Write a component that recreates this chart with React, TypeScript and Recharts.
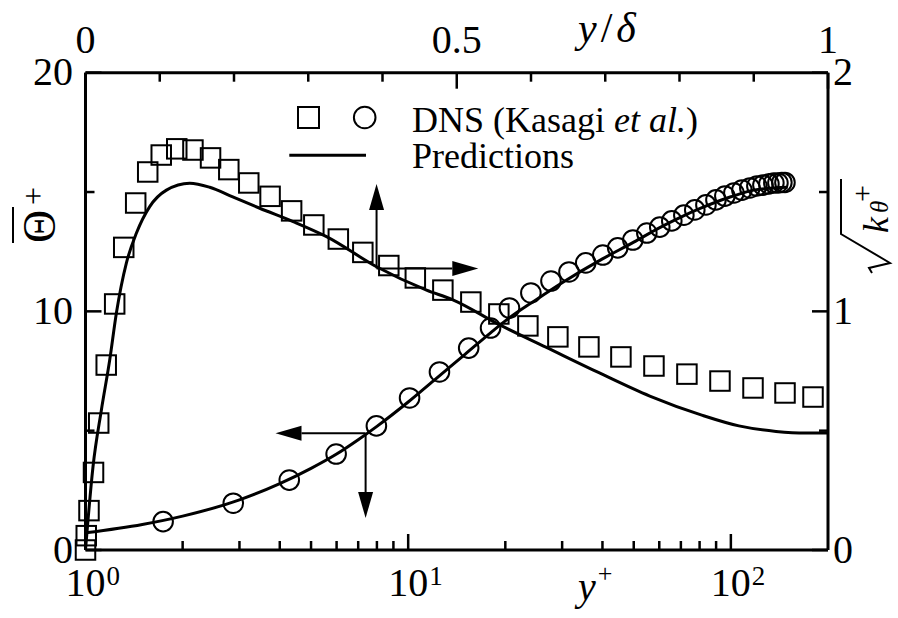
import React from 'react';
import { ComposedChart, Line, Scatter, XAxis, YAxis, ReferenceLine, Legend } from 'recharts';

const FONT = '"Liberation Serif", "Times New Roman", Times, serif';

// DNS mean temperature against wall distance in wall units
const dnsYPlus = [1.74, 2.87, 4.28, 5.98, 7.97, 10.1, 12.5, 15.4, 18.0, 20.6, 24.0, 27.7, 31.5, 35.5, 40.1, 44.6, 49.7, 54.9, 60.2, 65.6, 71.5, 77.3, 83.7, 89.9, 95.8, 102.2, 108.2, 114.5, 120.4, 125.7, 131.2, 135.9, 139.9, 143.9, 147.1];
const dnsTheta = [1.19, 1.96, 2.93, 4.02, 5.2, 6.37, 7.46, 8.46, 9.3, 10.14, 10.77, 11.27, 11.65, 12.03, 12.36, 12.66, 12.99, 13.28, 13.53, 13.79, 14.03, 14.25, 14.46, 14.67, 14.83, 14.96, 15.08, 15.17, 15.25, 15.29, 15.34, 15.38, 15.38, 15.4, 15.4];

// DNS rms temperature fluctuation against y/delta
const dnsEta = [0, 0.001, 0.0047, 0.0108, 0.0178, 0.0279, 0.0393, 0.0515, 0.0676, 0.0838, 0.102, 0.1229, 0.1447, 0.1684, 0.193, 0.2199, 0.2486, 0.2776, 0.3075, 0.3405, 0.3735, 0.4085, 0.4442, 0.4813, 0.519, 0.5567, 0.5958, 0.6362, 0.678, 0.7211, 0.7656, 0.81, 0.8545, 0.899, 0.9421, 0.9798];
const dnsKRms = [0, 0.06, 0.165, 0.325, 0.532, 0.775, 1.031, 1.268, 1.454, 1.584, 1.655, 1.681, 1.676, 1.643, 1.594, 1.538, 1.482, 1.421, 1.362, 1.303, 1.247, 1.192, 1.14, 1.089, 1.039, 0.989, 0.939, 0.893, 0.851, 0.809, 0.771, 0.737, 0.708, 0.679, 0.658, 0.641];

// Model predictions
const predYPlus = [1, 1.5, 2, 3, 4, 5, 6, 7, 8, 10, 12, 15, 18, 20, 25, 30, 40, 50, 60, 70, 80, 100, 120, 150];
const predTheta = [0.72, 1.07, 1.42, 2.1, 2.78, 3.42, 4.02, 4.62, 5.18, 6.2, 7.1, 8.2, 9.1, 9.6, 10.5, 11.2, 12.2, 12.9, 13.5, 13.95, 14.3, 14.8, 15.1, 15.2];
const predEta = [0, 0.0101, 0.0214, 0.0326, 0.0416, 0.0551, 0.0686, 0.0865, 0.109, 0.1404, 0.1673, 0.1983, 0.2347, 0.2796, 0.3246, 0.392, 0.4593, 0.4948, 0.558, 0.62, 0.69, 0.76, 0.83, 0.88, 0.93, 0.97, 1.0];
const predKRms = [0, 0.349, 0.587, 0.796, 0.993, 1.203, 1.328, 1.439, 1.508, 1.537, 1.52, 1.48, 1.432, 1.376, 1.313, 1.187, 1.089, 1.048, 0.943, 0.85, 0.745, 0.645, 0.565, 0.52, 0.497, 0.49, 0.49];

// Axis ticks
const yPlusTicks = [1, 2, 3, 4, 5, 6, 7, 8, 9, 10, 20, 30, 40, 50, 60, 70, 80, 90, 100];
const yPlusMajor = [1, 10, 100];
const etaTicks = [0, 0.1, 0.2, 0.3, 0.4, 0.5, 0.6, 0.7, 0.8, 0.9, 1];
const etaLabels: Record<string, string> = { '0': '0', '0.5': '0.5', '1': '1' };
const thetaTicks = [0, 5, 10, 15, 20];
const kTicks = [0, 0.5, 1, 1.5, 2];

// Guide arrows: corner point and arrow tips
const kArrowCorner = [0.392, 1.18];
const kArrowUpTip = 1.534;
const kArrowRightTip = 0.529;
const thArrowCorner = [7.38, 4.89];
const thArrowLeftTip = 3.88;
const thArrowDownTip = 1.34;

const zip = (xs: number[], ys: number[]) => xs.map((x, i) => ({ x, y: ys[i] }));
const dnsThetaData = zip(dnsYPlus, dnsTheta);
const dnsKData = zip(dnsEta, dnsKRms);
const predThetaData = zip(predYPlus, predTheta);
const predKData = zip(predEta, predKRms);

const MAJOR = 16;
const MINOR = 9;
const TICK_W = 2.5;

const BottomTick = (props: any) => {
  const { x, y, payload } = props;
  const v = payload.value;
  const major = yPlusMajor.includes(v);
  const exp = Math.round(Math.log10(v));
  return (
    <g>
      <line x1={x} y1={y} x2={x} y2={y - (major ? MAJOR : MINOR)} stroke="#000" strokeWidth={TICK_W} />
      {major && (
        <g fontFamily={FONT} fill="#000">
          <text x={x} y={y + 46} textAnchor="middle" fontSize={40}>10</text>
          <text x={x + 21} y={y + 35} fontSize={27}>{exp}</text>
        </g>
      )}
    </g>
  );
};

const TopTick = (props: any) => {
  const { x, y, payload } = props;
  const v = Math.round(payload.value * 10) / 10;
  const label = etaLabels[String(v)];
  const major = label !== undefined;
  return (
    <g>
      <line x1={x} y1={y} x2={x} y2={y + (major ? MAJOR : MINOR)} stroke="#000" strokeWidth={TICK_W} />
      {label && (
        <text x={x} y={y - 20} textAnchor="middle" fontSize={40} fontFamily={FONT} fill="#000">{label}</text>
      )}
    </g>
  );
};

const LeftTick = (props: any) => {
  const { x, y, payload } = props;
  const v = payload.value;
  const major = v % 10 === 0;
  return (
    <g>
      <line x1={x} y1={y} x2={x + (major ? MAJOR : MINOR)} y2={y} stroke="#000" strokeWidth={TICK_W} />
      {major && (
        <text x={x - 12.5} y={y + 12.5} textAnchor="end" fontSize={40} fontFamily={FONT} fill="#000">{v}</text>
      )}
    </g>
  );
};

const RightTick = (props: any) => {
  const { x, y, payload } = props;
  const v = payload.value;
  const major = Number.isInteger(v);
  return (
    <g>
      <line x1={x} y1={y} x2={x - (major ? MAJOR : MINOR)} y2={y} stroke="#000" strokeWidth={TICK_W} />
      {major && (
        <text x={x + 5} y={y + 12.5} textAnchor="start" fontSize={40} fontFamily={FONT} fill="#000">{v}</text>
      )}
    </g>
  );
};

const Square = (props: any) => {
  const { cx, cy } = props;
  if (cx == null || cy == null) return <g />;
  const s = 19.5;
  return <rect x={cx - s / 2} y={cy - s / 2} width={s} height={s} fill="none" stroke="#000" strokeWidth={2} />;
};

const Ring = (props: any) => {
  const { cx, cy } = props;
  if (cx == null || cy == null) return <g />;
  return <circle cx={cx} cy={cy} r={9.8} fill="none" stroke="#000" strokeWidth={2} />;
};

const Arrow = (props: any) => {
  const { x1, y1, x2, y2 } = props;
  if ([x1, y1, x2, y2].some((v) => v == null || Number.isNaN(v))) return <g />;
  const dx = x2 - x1;
  const dy = y2 - y1;
  const len = Math.hypot(dx, dy) || 1;
  const ux = dx / len;
  const uy = dy / len;
  const hl = 26;
  const hw = 7.5;
  const bx = x2 - ux * hl;
  const by = y2 - uy * hl;
  const pts = `${x2},${y2} ${bx - uy * hw},${by + ux * hw} ${bx + uy * hw},${by - ux * hw}`;
  return (
    <g>
      <line x1={x1} y1={y1} x2={bx} y2={by} stroke="#000" strokeWidth={2} />
      <polygon points={pts} fill="#000" />
    </g>
  );
};

const LegendBox = () => (
  <svg width={330} height={90} style={{ overflow: 'visible' }}>
    <rect x={28.5 - 10.5} y={22.5 - 10.5} width={21} height={21} fill="none" stroke="#000" strokeWidth={2} />
    <circle cx={84.7} cy={22.5} r={10.8} fill="none" stroke="#000" strokeWidth={2} />
    <line x1={9.3} y1={60.3} x2={86} y2={60.3} stroke="#000" strokeWidth={3} />
    <text x={132} y={36.7} fontSize={36} fontFamily={FONT} fill="#000">
      DNS (Kasagi <tspan fontStyle="italic">et al.</tspan>)
    </text>
    <text x={132} y={73} fontSize={36} fontFamily={FONT} fill="#000">Predictions</text>
  </svg>
);

const axisLine = { stroke: '#000', strokeWidth: 3 };

export default function App() {
  return (
    <div style={{ position: 'absolute', left: 0, top: 0, background: '#fff' }}>
      <ComposedChart width={898} height={618} margin={{ top: 0, right: 0, bottom: 0, left: 0 }}>
        <XAxis
          xAxisId="yp"
          dataKey="x"
          type="number"
          scale="log"
          domain={[1, 200]}
          allowDataOverflow
          ticks={yPlusTicks}
          interval={0}
          orientation="bottom"
          height={68}
          axisLine={axisLine}
          tickLine={false}
          tickSize={0}
          tickMargin={0}
          tick={(p: any) => <BottomTick {...p} />}
          label={{
            content: () => (
              <text x={578} y={600} fontSize={40} fontFamily={FONT} fill="#000">
                <tspan fontStyle="italic">y</tspan>
                <tspan fontSize={26} dx={2} dy={-18}>+</tspan>
              </text>
            ),
          }}
        />
        <XAxis
          xAxisId="eta"
          dataKey="x"
          type="number"
          domain={[0, 1]}
          ticks={etaTicks}
          interval={0}
          orientation="top"
          height={72.7}
          axisLine={axisLine}
          tickLine={false}
          tickSize={0}
          tickMargin={0}
          tick={(p: any) => <TopTick {...p} />}
          label={{
            content: () => (
              <text x={578} y={42} fontSize={42} fontFamily={FONT} fill="#000">
                <tspan fontStyle="italic">y</tspan>
                <tspan dx={4}>/</tspan>
                <tspan fontStyle="italic" dx={4}>δ</tspan>
              </text>
            ),
          }}
        />
        <YAxis
          yAxisId="th"
          dataKey="y"
          type="number"
          domain={[0, 20]}
          ticks={thetaTicks}
          interval={0}
          orientation="left"
          width={85.5}
          axisLine={axisLine}
          tickLine={false}
          tickSize={0}
          tickMargin={0}
          tick={(p: any) => <LeftTick {...p} />}
          label={{
            content: () => (
              <g transform="translate(55,243) rotate(-90)" fontFamily={FONT} fill="#000">
                <text x={0} y={0} fontSize={46}>Θ</text>
                <line x1={0} y1={-42} x2={36} y2={-42} stroke="#000" strokeWidth={2} />
                <text x={38} y={-11} fontSize={32}>+</text>
              </g>
            ),
          }}
        />
        <YAxis
          yAxisId="k"
          dataKey="y"
          type="number"
          domain={[0, 2]}
          ticks={kTicks}
          interval={0}
          orientation="right"
          width={70}
          axisLine={axisLine}
          tickLine={false}
          tickSize={0}
          tickMargin={0}
          tick={(p: any) => <RightTick {...p} />}
          label={{
            content: () => (
              <g transform="translate(888,267) rotate(-90)" fontFamily={FONT} fill="#000">
                <path d="M -6 -16 L -1 -19 L 4 2 L 33 -47 L 88 -47" fill="none" stroke="#000" strokeWidth={2} />
                <text x={34} y={0} fontSize={36} fontStyle="italic">k</text>
                <text x={54} y={0} fontSize={25} fontStyle="italic">θ</text>
                <text x={65} y={-16} fontSize={30}>+</text>
              </g>
            ),
          }}
        />

        <Line
          xAxisId="yp"
          yAxisId="th"
          data={predThetaData}
          dataKey="y"
          type="monotone"
          stroke="#000"
          strokeWidth={3}
          dot={false}
          isAnimationActive={false}
          name="Predictions"
        />
        <Line
          xAxisId="eta"
          yAxisId="k"
          data={predKData}
          dataKey="y"
          type="monotone"
          stroke="#000"
          strokeWidth={3}
          dot={false}
          isAnimationActive={false}
          name="Predictions k"
          legendType="none"
        />
        <Scatter
          xAxisId="yp"
          yAxisId="th"
          data={dnsThetaData}
          dataKey="y"
          shape={(p: any) => <Ring {...p} />}
          isAnimationActive={false}
          name="DNS theta"
        />
        <Scatter
          xAxisId="eta"
          yAxisId="k"
          data={dnsKData}
          dataKey="y"
          shape={(p: any) => <Square {...p} />}
          isAnimationActive={false}
          name="DNS k"
        />

        <ReferenceLine
          xAxisId="eta"
          yAxisId="k"
          segment={[{ x: kArrowCorner[0], y: kArrowCorner[1] }, { x: kArrowCorner[0], y: kArrowUpTip }]}
          shape={(p: any) => <Arrow {...p} />}
        />
        <ReferenceLine
          xAxisId="eta"
          yAxisId="k"
          segment={[{ x: kArrowCorner[0], y: kArrowCorner[1] }, { x: kArrowRightTip, y: kArrowCorner[1] }]}
          shape={(p: any) => <Arrow {...p} />}
        />
        <ReferenceLine
          xAxisId="yp"
          yAxisId="th"
          segment={[{ x: thArrowCorner[0], y: thArrowCorner[1] }, { x: thArrowLeftTip, y: thArrowCorner[1] }]}
          shape={(p: any) => <Arrow {...p} />}
        />
        <ReferenceLine
          xAxisId="yp"
          yAxisId="th"
          segment={[{ x: thArrowCorner[0], y: thArrowCorner[1] }, { x: thArrowCorner[0], y: thArrowDownTip }]}
          shape={(p: any) => <Arrow {...p} />}
        />

        <Legend
          layout="horizontal"
          verticalAlign="middle"
          align="center"
          content={() => <LegendBox />}
          wrapperStyle={{ position: 'absolute', left: 280, top: 95, width: 330, height: 90, margin: 0 }}
        />
      </ComposedChart>
    </div>
  );
}
